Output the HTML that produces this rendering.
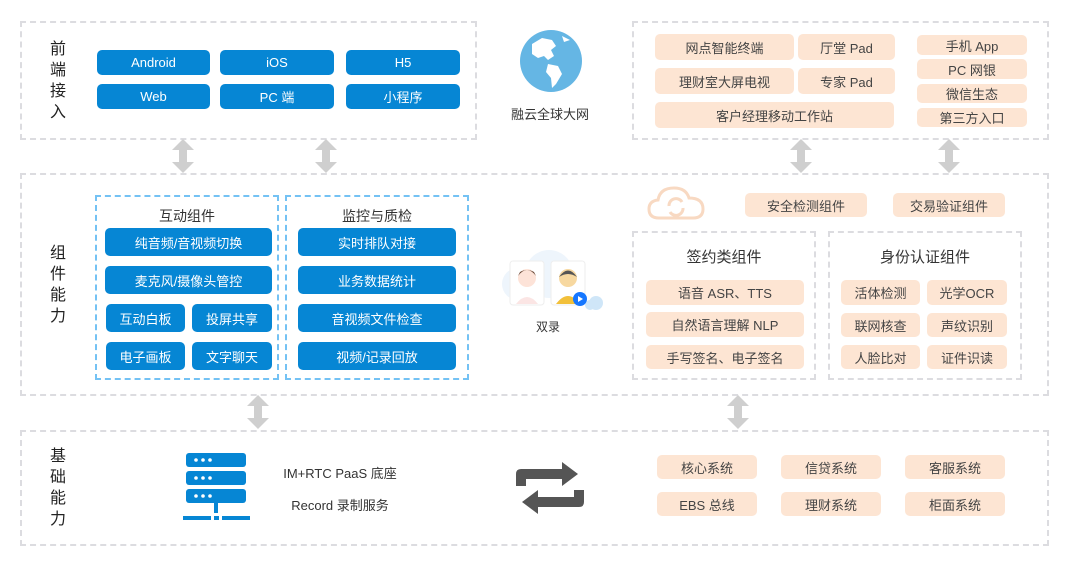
<!DOCTYPE html>
<html><head><meta charset="utf-8"><style>
*{margin:0;padding:0;box-sizing:border-box}
body{width:1071px;height:564px;background:#fff;position:relative;overflow:hidden;font-family:"Liberation Sans","Noto Sans CJK SC",sans-serif;color:#333}
.a{position:absolute}
.dg{position:absolute;border:2px dashed #dcdce0}
.db{position:absolute;border:2px dashed #74c2f4}
.b{position:absolute;background:#0686d4;color:#fff;border-radius:5px;font-size:13px;display:flex;align-items:center;justify-content:center}
.o{position:absolute;background:#fde5d3;color:#444;border-radius:5px;font-size:13px;display:flex;align-items:center;justify-content:center}
.lab{position:absolute;font-size:16px;line-height:21px;width:20px;text-align:center;color:#222}
.t{position:absolute;font-size:13px;color:#333;text-align:center}
</style></head><body>
<div class="dg" style="left:20px;top:21px;width:457px;height:119px"></div>
<div class="dg" style="left:632px;top:21px;width:417px;height:119px"></div>
<div class="dg" style="left:20px;top:173px;width:1029px;height:223px"></div>
<div class="dg" style="left:20px;top:430px;width:1029px;height:116px"></div>

<div class="lab" style="left:48px;top:39px">前<br>端<br>接<br>入</div>
<div class="lab" style="left:48px;top:243px">组<br>件<br>能<br>力</div>
<div class="lab" style="left:48px;top:446px">基<br>础<br>能<br>力</div>

<div class="b" style="left:97px;top:50px;width:113px;height:25px">Android</div>
<div class="b" style="left:220px;top:50px;width:114px;height:25px">iOS</div>
<div class="b" style="left:346px;top:50px;width:114px;height:25px">H5</div>
<div class="b" style="left:97px;top:84px;width:113px;height:25px">Web</div>
<div class="b" style="left:220px;top:84px;width:114px;height:25px">PC 端</div>
<div class="b" style="left:346px;top:84px;width:114px;height:25px">小程序</div>

<svg class="a" style="left:518px;top:28px" width="66" height="66" viewBox="0 0 66 66">
<circle cx="33" cy="33" r="31" fill="#65b6e4"/>
<path d="M14 16 L24 10 L34 12 L38 18 L33 22 L36 28 L30 32 L26 28 L20 30 L14 26 Z" fill="#fff"/>
<path d="M30 36 L40 38 L44 46 L38 56 L34 60 L33 50 L28 44 Z" fill="#fff"/>
<path d="M44 8 L52 12 L46 14 Z" fill="#fff"/>
</svg>
<div class="t" style="left:490px;top:104px;width:120px">融云全球大网</div>

<div class="o" style="left:655px;top:34px;width:139px;height:26px">网点智能终端</div>
<div class="o" style="left:798px;top:34px;width:97px;height:26px">厅堂 Pad</div>
<div class="o" style="left:655px;top:68px;width:139px;height:26px">理财室大屏电视</div>
<div class="o" style="left:798px;top:68px;width:97px;height:26px">专家 Pad</div>
<div class="o" style="left:655px;top:102px;width:239px;height:26px">客户经理移动工作站</div>
<div class="o" style="left:917px;top:35px;width:110px;height:20px">手机 App</div>
<div class="o" style="left:917px;top:59px;width:110px;height:20px">PC 网银</div>
<div class="o" style="left:917px;top:84px;width:110px;height:19px">微信生态</div>
<div class="o" style="left:917px;top:108px;width:110px;height:19px">第三方入口</div>

<svg class="a" style="left:0;top:0" width="1071" height="564">
<defs><g id="ar"><path d="M0 -17 L11 -6 L4 -6 L4 6 L11 6 L0 17 L-11 6 L-4 6 L-4 -6 L-11 -6 Z" fill="#cfcfcf"/></g></defs>
<use href="#ar" x="183" y="156"/><use href="#ar" x="326" y="156"/>
<use href="#ar" x="801" y="156"/><use href="#ar" x="949" y="156"/>
<use href="#ar" x="258" y="412"/><use href="#ar" x="738" y="412"/>
</svg>

<div class="db" style="left:95px;top:195px;width:184px;height:185px"></div>
<div class="db" style="left:285px;top:195px;width:184px;height:185px"></div>
<div class="t" style="left:95px;top:206px;width:184px;font-size:14px">互动组件</div>
<div class="t" style="left:285px;top:206px;width:184px;font-size:14px">监控与质检</div>
<div class="b" style="left:105px;top:228px;width:167px;height:28px">纯音频/音视频切换</div>
<div class="b" style="left:105px;top:266px;width:167px;height:28px">麦克风/摄像头管控</div>
<div class="b" style="left:106px;top:304px;width:79px;height:28px">互动白板</div>
<div class="b" style="left:192px;top:304px;width:80px;height:28px">投屏共享</div>
<div class="b" style="left:106px;top:342px;width:79px;height:28px">电子画板</div>
<div class="b" style="left:192px;top:342px;width:80px;height:28px">文字聊天</div>
<div class="b" style="left:298px;top:228px;width:158px;height:28px">实时排队对接</div>
<div class="b" style="left:298px;top:266px;width:158px;height:28px">业务数据统计</div>
<div class="b" style="left:298px;top:304px;width:158px;height:28px">音视频文件检查</div>
<div class="b" style="left:298px;top:342px;width:158px;height:28px">视频/记录回放</div>

<svg class="a" style="left:494px;top:246px" width="112" height="70">
<circle cx="55" cy="28" r="24" fill="#eef5fc"/><circle cx="24" cy="38" r="16" fill="#eef5fc"/>
<circle cx="102" cy="57" r="7" fill="#cfe6f8"/><circle cx="96" cy="59" r="5" fill="#cfe6f8"/>
<rect x="16" y="15" width="34" height="44" rx="3" fill="#fff" stroke="#eee"/>
<rect x="57" y="15" width="34" height="44" rx="3" fill="#fff" stroke="#eee"/>
<circle cx="33" cy="32" r="9" fill="#fde3d8"/><path d="M24 30 Q33 18 42 30 L40 26 Q33 22 26 26Z" fill="#6a4b3a"/>
<path d="M22 58 Q33 44 44 58Z" fill="#fbe5e4"/>
<circle cx="74" cy="32" r="9" fill="#f7d8a0"/><path d="M65 31 Q74 18 83 31 Q74 25 65 31Z" fill="#555"/>
<path d="M62 58 Q74 42 86 58Z" fill="#f2c03a"/>
<circle cx="86" cy="53" r="7" fill="#1677ff"/><path d="M84 50 L89 53 L84 56Z" fill="#fff"/>
</svg>
<div class="a" style="left:520px;top:318px;width:56px;font-size:12px;text-align:center;color:#333">双录</div>

<svg class="a" style="left:647px;top:185px" width="58" height="36" viewBox="0 0 58 36">
<path d="M12 33 Q2 33 2 24 Q2 16 11 15 Q13 3 27 3 Q39 3 42 13 Q56 13 56 24 Q56 33 46 33 Z" fill="none" stroke="#f8d9c2" stroke-width="3"/>
<path d="M22 21 A7 7 0 0 1 35 17 M36 23 A7 7 0 0 1 23 27" fill="none" stroke="#f8d9c2" stroke-width="3"/>
</svg>
<div class="o" style="left:745px;top:193px;width:122px;height:24px">安全检测组件</div>
<div class="o" style="left:893px;top:193px;width:112px;height:24px">交易验证组件</div>

<div class="dg" style="left:632px;top:231px;width:184px;height:149px"></div>
<div class="dg" style="left:828px;top:231px;width:194px;height:149px"></div>
<div class="t" style="left:632px;top:246px;width:184px;font-size:15px">签约类组件</div>
<div class="t" style="left:828px;top:246px;width:194px;font-size:15px">身份认证组件</div>
<div class="o" style="left:646px;top:280px;width:158px;height:25px">语音 ASR、TTS</div>
<div class="o" style="left:646px;top:312px;width:158px;height:25px">自然语言理解 NLP</div>
<div class="o" style="left:646px;top:345px;width:158px;height:24px">手写签名、电子签名</div>
<div class="o" style="left:841px;top:280px;width:79px;height:25px">活体检测</div>
<div class="o" style="left:927px;top:280px;width:80px;height:25px">光学OCR</div>
<div class="o" style="left:841px;top:313px;width:79px;height:24px">联网核查</div>
<div class="o" style="left:927px;top:313px;width:80px;height:24px">声纹识别</div>
<div class="o" style="left:841px;top:345px;width:79px;height:24px">人脸比对</div>
<div class="o" style="left:927px;top:345px;width:80px;height:24px">证件识读</div>

<svg class="a" style="left:183px;top:452px" width="68" height="70">
<rect x="3" y="1" width="60" height="14" rx="3" fill="#0686d4"/>
<rect x="3" y="19" width="60" height="14" rx="3" fill="#0686d4"/>
<rect x="3" y="37" width="60" height="14" rx="3" fill="#0686d4"/>
<g fill="#fff"><circle cx="13" cy="8" r="1.8"/><circle cx="20" cy="8" r="1.8"/><circle cx="27" cy="8" r="1.8"/>
<circle cx="13" cy="26" r="1.8"/><circle cx="20" cy="26" r="1.8"/><circle cx="27" cy="26" r="1.8"/>
<circle cx="13" cy="44" r="1.8"/><circle cx="20" cy="44" r="1.8"/><circle cx="27" cy="44" r="1.8"/></g>
<rect x="31" y="51" width="4" height="10" fill="#0686d4"/>
<rect x="0" y="64" width="28" height="4" fill="#0686d4"/><rect x="31" y="64" width="5" height="4" fill="#0686d4"/><rect x="39" y="64" width="28" height="4" fill="#0686d4"/>
</svg>
<div class="t" style="left:270px;top:463px;width:140px">IM+RTC PaaS 底座</div>
<div class="t" style="left:270px;top:495px;width:140px">Record 录制服务</div>

<svg class="a" style="left:512px;top:460px" width="76" height="56">
<path d="M4 26 V14 Q4 9 9 9 H50 V2 L66 14 L50 26 V19 H14 V26 Z" fill="#555"/>
<path d="M72 30 V42 Q72 47 67 47 H26 V54 L10 42 L26 30 V37 H62 V30 Z" fill="#555"/>
</svg>

<div class="o" style="left:657px;top:455px;width:100px;height:24px">核心系统</div>
<div class="o" style="left:781px;top:455px;width:100px;height:24px">信贷系统</div>
<div class="o" style="left:905px;top:455px;width:100px;height:24px">客服系统</div>
<div class="o" style="left:657px;top:492px;width:100px;height:24px">EBS 总线</div>
<div class="o" style="left:781px;top:492px;width:100px;height:24px">理财系统</div>
<div class="o" style="left:905px;top:492px;width:100px;height:24px">柜面系统</div>
</body></html>
